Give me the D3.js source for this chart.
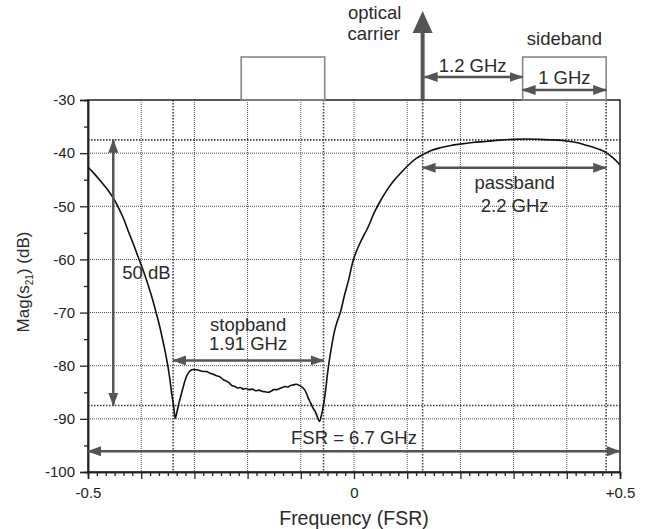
<!DOCTYPE html>
<html>
<head>
<meta charset="utf-8">
<script src="https://cdn.jsdelivr.net/npm/d3@7"></script>
<style>
  body { margin: 0; background: #fff; }
  svg { font-family: "Liberation Sans", Arial, sans-serif; }
</style>
</head>
<body>
<div id="chart"></div>
<script>
// measured filter response, frequency in FSR units and |S21| in dB
var freq = [-0.500, -0.488, -0.476, -0.463, -0.451, -0.444, -0.434, -0.425, -0.414, -0.404,
  -0.395, -0.387, -0.379, -0.372, -0.366, -0.361, -0.355, -0.350, -0.346, -0.343, -0.339, -0.336,
  -0.333, -0.329, -0.325, -0.321, -0.316, -0.311, -0.306, -0.302, -0.299, -0.293, -0.288,
  -0.282, -0.277, -0.271, -0.265, -0.258, -0.252, -0.246, -0.240, -0.235, -0.230, -0.224,
  -0.219, -0.214, -0.208, -0.202, -0.197, -0.191, -0.185, -0.179, -0.173, -0.167, -0.161,
  -0.156, -0.151, -0.145, -0.140, -0.135, -0.130, -0.124, -0.119, -0.114, -0.108, -0.103,
  -0.098, -0.093, -0.089, -0.086, -0.081, -0.077, -0.073, -0.069, -0.065, -0.061, -0.058,
  -0.054, -0.048, -0.042, -0.036, -0.031, -0.026, -0.018, -0.010, -0.001, 0.010, 0.027,
  0.038, 0.049, 0.061, 0.074, 0.090, 0.105, 0.117, 0.129, 0.145, 0.162, 0.180, 0.199,
  0.223, 0.248, 0.274, 0.299, 0.325, 0.350, 0.375, 0.400, 0.418, 0.436, 0.455, 0.474,
  0.488, 0.500];
var magDb = [-42.6, -43.9, -45.3, -46.9, -48.7, -50.0, -52.1, -54.5, -57.3, -60.0,
  -62.4, -64.8, -67.4, -70.0, -72.3, -74.5, -77.3, -80.0, -82.6, -85.0, -87.6, -89.9,
  -88.8, -87.0, -85.5, -84.0, -82.3, -81.3, -80.8, -80.7, -80.75, -80.8, -81.0,
  -81.1, -81.1, -81.4, -81.6, -81.9, -82.1, -82.6, -82.9, -83.2, -83.7, -83.9,
  -84.2, -84.1, -84.4, -84.3, -84.5, -84.4, -84.7, -84.6, -84.8, -84.9, -85.0,
  -84.8, -84.5, -84.5, -84.3, -84.1, -83.9, -84.0, -83.7, -83.6, -83.5, -83.7,
  -84.0, -84.5, -85.3, -86.1, -87.1, -88.0, -88.6, -89.6, -90.5, -89.2, -87.8,
  -85.1, -80.1, -76.3, -73.2, -71.5, -70.1, -66.8, -63.8, -60.0, -57.2, -53.8,
  -51.2, -49.1, -47.1, -45.3, -43.5, -42.0, -41.0, -40.3, -39.5, -39.0, -38.6, -38.3,
  -38.0, -37.8, -37.55, -37.4, -37.35, -37.4, -37.5, -37.7, -38.0, -38.5, -39.1, -39.9,
  -41.0, -42.2];

var xTickLabels = ["-0.5", "0", "+0.5"];
var yTicks = [-100, -90, -80, -70, -60, -50, -40, -30];

// band markers (FSR units / dB)
var stopband = [-0.340, -0.0573];
var passband = [0.129, 0.474];
var carrier = 0.129;
var lowerBox = [-0.212, -0.055];
var sideband = [0.317, 0.474];
var depthLevels = [-37.5, -87.5];

var margin = {top: 100, right: 31, bottom: 57, left: 88};
var width = 651 - margin.left - margin.right,
    height = 529 - margin.top - margin.bottom;

var root = d3.select("#chart")
  .append("svg")
    .attr("width", 651)
    .attr("height", 529);

var defs = root.append("defs");
defs.append("marker")
    .attr("id", "arr")
    .attr("viewBox", "0 0 14 10")
    .attr("refX", 13).attr("refY", 5)
    .attr("markerWidth", 14).attr("markerHeight", 10)
    .attr("markerUnits", "userSpaceOnUse")
    .attr("orient", "auto-start-reverse")
  .append("path")
    .attr("d", "M0,0 L14,5 L0,10 Z")
    .attr("fill", "#555");

var svg = root.append("g")
    .attr("transform", "translate(" + margin.left + "," + margin.top + ")");

var x = d3.scaleLinear().domain([-0.5, 0.5]).range([0, width]);
var y = d3.scaleLinear().domain([-100, -30]).range([height, 0]);

// grid
var gridX = d3.range(-4, 5).map(function(i) { return i / 10; });
svg.append("g").selectAll("line")
  .data(gridX).enter().append("line")
    .attr("x1", function(d) { return x(d); })
    .attr("x2", function(d) { return x(d); })
    .attr("y1", 0).attr("y2", height)
    .attr("stroke", "#4a4a4a").attr("stroke-width", 1)
    .attr("stroke-dasharray", "1,1");
svg.append("g").selectAll("line")
  .data(yTicks.slice(1, -1)).enter().append("line")
    .attr("x1", 0).attr("x2", width)
    .attr("y1", function(d) { return y(d); })
    .attr("y2", function(d) { return y(d); })
    .attr("stroke", "#4a4a4a").attr("stroke-width", 1)
    .attr("stroke-dasharray", "1,1");

// band edge guides
var edges = [stopband[0], stopband[1], passband[0], passband[1]];
svg.append("g").selectAll("line")
  .data(edges).enter().append("line")
    .attr("x1", function(d) { return x(d); })
    .attr("x2", function(d) { return x(d); })
    .attr("y1", 0).attr("y2", height)
    .attr("stroke", "#444").attr("stroke-width", 1.6)
    .attr("stroke-dasharray", "1.5,1.5");
svg.append("g").selectAll("line")
  .data(depthLevels).enter().append("line")
    .attr("x1", 0).attr("x2", width)
    .attr("y1", function(d) { return y(d); })
    .attr("y2", function(d) { return y(d); })
    .attr("stroke", "#444").attr("stroke-width", 1.6)
    .attr("stroke-dasharray", "1.5,1.5");

// response curve
var data = freq.map(function(f, i) { return {f: f, v: magDb[i]}; });
svg.append("path")
    .datum(data)
    .attr("fill", "none")
    .attr("stroke", "#111")
    .attr("stroke-width", 1.6)
    .attr("d", d3.line()
      .x(function(d) { return x(d.f); })
      .y(function(d) { return y(d.v); })
      .curve(d3.curveCatmullRom.alpha(0.5)));

// axes
svg.append("g")
    .attr("transform", "translate(0," + height + ")")
    .call(d3.axisBottom(x)
      .tickValues(d3.range(-5, 6).map(function(i) { return i / 10; }))
      .tickSize(7).tickPadding(8)
      .tickFormat(function(d) {
        if (Math.abs(d + 0.5) < 1e-6) return xTickLabels[0];
        if (Math.abs(d) < 1e-6) return xTickLabels[1];
        if (Math.abs(d - 0.5) < 1e-6) return xTickLabels[2];
        return "";
      }));
svg.append("g")
    .attr("transform", "translate(0," + height + ")")
    .call(d3.axisBottom(x)
      .tickValues(d3.range(0, 61).filter(function(i) { return i % 6 != 0; })
        .map(function(i) { return -0.5 + i / 60; }))
      .tickSize(4).tickFormat(""));

svg.append("g")
    .call(d3.axisLeft(y).tickValues(yTicks).tickSize(8).tickPadding(5)
      .tickFormat(function(d) { return String(d); }));
svg.append("g")
    .call(d3.axisLeft(y).tickValues([-95, -85, -75, -65, -55, -45, -35]).tickSize(4).tickFormat(""));

svg.selectAll(".domain").attr("stroke", "#222").attr("stroke-width", 1.5);
svg.selectAll(".tick line").attr("stroke", "#222").attr("stroke-width", 1.3);
svg.selectAll(".tick text")
    .attr("fill", "#222")
    .style("font-size", "15px")
    .style("font-family", "'Liberation Sans', Arial, sans-serif");

// frame
svg.append("rect")
    .attr("width", width).attr("height", height)
    .attr("fill", "none").attr("stroke", "#222").attr("stroke-width", 1.5);

// arrows
function arrow(x1, y1, x2, y2) {
  svg.append("line")
    .attr("x1", x1).attr("y1", y1).attr("x2", x2).attr("y2", y2)
    .attr("stroke", "#555").attr("stroke-width", 2.5)
    .attr("marker-start", "url(#arr)")
    .attr("marker-end", "url(#arr)");
}
function label(tx, ty, str, anchor) {
  svg.append("text")
    .attr("x", tx).attr("y", ty)
    .attr("text-anchor", anchor || "middle")
    .attr("fill", "#2a2a2a")
    .style("font-size", "18.5px")
    .text(str);
}

arrow(x(-0.4525), y(depthLevels[0]), x(-0.4525), y(depthLevels[1]));
label(x(-0.4525) + 9, y(-63.6), "50 dB", "start");

arrow(x(stopband[0]), y(-79.0), x(stopband[1]), y(-79.0));
label(x(-0.199), y(-73.4), "stopband");
label(x(-0.199), y(-77.1), "1.91 GHz");

arrow(x(passband[0]), y(-42.76), x(passband[1]), y(-42.76));
label(x(0.302), y(-46.8), "passband");
label(x(0.302), y(-51.0), "2.2 GHz");

arrow(x(-0.5), y(-96.1), x(0.5), y(-96.1));
label(x(0), y(-94.7), "FSR = 6.7 GHz");

// top sketch: carrier and sidebands
svg.append("rect")
    .attr("x", x(lowerBox[0])).attr("y", -43)
    .attr("width", x(lowerBox[1]) - x(lowerBox[0])).attr("height", 43)
    .attr("fill", "none").attr("stroke", "#888").attr("stroke-width", 1.6);
svg.append("rect")
    .attr("x", x(sideband[0])).attr("y", -43)
    .attr("width", x(sideband[1]) - x(sideband[0])).attr("height", 43)
    .attr("fill", "none").attr("stroke", "#888").attr("stroke-width", 1.6);

svg.append("line")
    .attr("x1", x(carrier)).attr("x2", x(carrier))
    .attr("y1", 0).attr("y2", -70)
    .attr("stroke", "#555").attr("stroke-width", 4);
svg.append("path")
    .attr("d", "M" + (x(carrier) - 10) + ",-67 L" + x(carrier) + ",-89 L" + (x(carrier) + 10) + ",-67 Z")
    .attr("fill", "#555");

arrow(x(carrier) + 2, -23, x(sideband[0]), -23);
arrow(x(sideband[0]), -10, x(sideband[1]), -10);
label((x(carrier) + x(sideband[0])) / 2, -28, "1.2 GHz");
label((x(sideband[0]) + x(sideband[1])) / 2, -16, "1 GHz");
label((x(sideband[0]) + x(sideband[1])) / 2, -55, "sideband");
label(x(carrier) - 48, -81, "optical");
label(x(carrier) - 49, -60, "carrier");

// axis titles
svg.append("text")
    .attr("x", width / 2).attr("y", height + 53)
    .attr("text-anchor", "middle")
    .attr("fill", "#2a2a2a")
    .style("font-size", "19.5px")
    .text("Frequency (FSR)");

var yl = svg.append("text")
    .attr("transform", "translate(" + (-59) + "," + (height / 2 - 4) + ") rotate(-90)")
    .attr("text-anchor", "middle")
    .attr("fill", "#2a2a2a")
    .style("font-size", "17px");
yl.append("tspan").text("Mag(s");
yl.append("tspan").attr("dy", 4).style("font-size", "10px").text("21");
yl.append("tspan").attr("dy", -4).text(") (dB)");
</script>
</body>
</html>
